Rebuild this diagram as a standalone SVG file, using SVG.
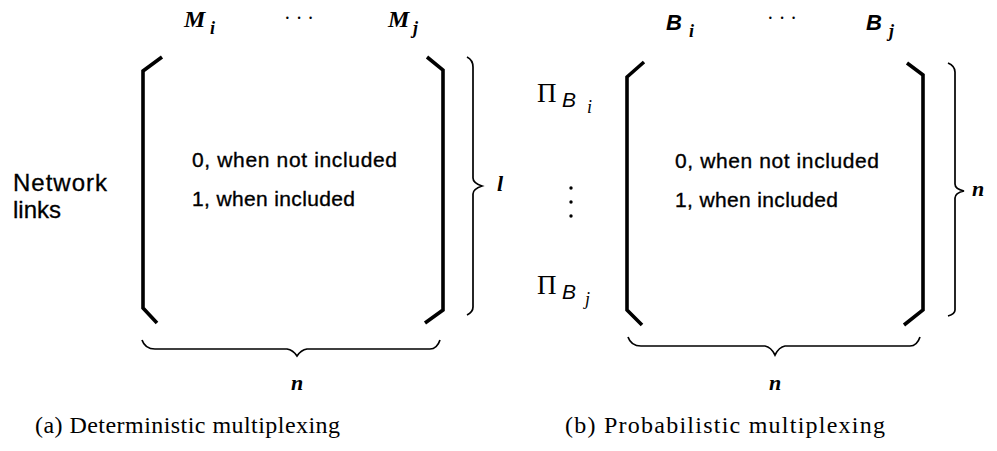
<svg xmlns="http://www.w3.org/2000/svg" width="997" height="451" viewBox="0 0 997 451">
<style>
.bk{fill:none;stroke:#000;stroke-width:3.6;stroke-linejoin:miter}
.br{fill:none;stroke:#000;stroke-width:1.7}
.sans{font-family:"Liberation Sans",Arial,sans-serif;fill:#000}
.serif{font-family:"Liberation Serif","Times New Roman",serif;fill:#000}
.it{font-style:italic}
.bi{font-style:italic;font-weight:bold}
.body{font-size:21px;stroke:#000;stroke-width:0.35}
.cap{font-size:24px}
</style>
<rect width="997" height="451" fill="#fff"/>
<g id="matrixA">
<path class="bk" d="M162,57 L143,71 L143,308 L157,323"/>
<path class="bk" d="M427,57 L443,70 L443,310 L425,323"/>
<text class="sans body" x="192" y="167" textLength="205">0, when not included</text>
<text class="sans body" x="192" y="206" textLength="163">1, when included</text>
</g>
<g id="colLabelsA">
<text class="serif bi" x="184" y="27" font-size="24">M</text>
<text class="serif bi" x="210" y="34" font-size="18">i</text>
<text class="serif" x="284" y="25" font-size="20">· · ·</text>
<text class="serif bi" x="388" y="27" font-size="24">M</text>
<text class="serif bi" x="413" y="34" font-size="18">j</text>
</g>
<g id="rowLabelA">
<text class="sans" x="13" y="191" font-size="24" textLength="94" stroke="#000" stroke-width="0.3">Network</text>
<text class="sans" x="13" y="218" font-size="24" stroke="#000" stroke-width="0.3">links</text>
</g>
<g id="matrixB">
<path class="bk" d="M644,62 L627,77 L627,310 L642,325"/>
<path class="bk" d="M907,63 L923,75 L923,310 L904,325"/>
<text class="sans body" x="675" y="168" textLength="204">0, when not included</text>
<text class="sans body" x="675" y="207" textLength="163">1, when included</text>
</g>
<g id="colLabelsB">
<text class="sans bi" x="666" y="30" font-size="22">B</text>
<text class="serif bi" x="689" y="37" font-size="18">i</text>
<text class="serif" x="767" y="25" font-size="20">· · ·</text>
<text class="sans bi" x="866" y="30" font-size="22">B</text>
<text class="serif bi" x="889" y="37" font-size="18">j</text>
</g>
<g id="rowLabelsB">
<text class="serif" x="537" y="102" font-size="27">Π</text>
<text class="sans it" x="562" y="107" font-size="21">B</text>
<text class="serif it" x="587" y="113" font-size="18">i</text>
<circle cx="571" cy="188" r="1.7"/>
<circle cx="571" cy="202" r="1.7"/>
<circle cx="571" cy="216" r="1.7"/>
<text class="serif" x="537" y="294" font-size="27">Π</text>
<text class="sans it" x="562" y="299" font-size="21">B</text>
<text class="serif it" x="585" y="305" font-size="18">j</text>
</g>
<g id="connectors">
<path class="br" d="M467,57 Q473,60 473,67 L473,178 Q473,183 482,186 Q473,189 473,194 L473,307 Q473,312 467,315"/>
<path class="br" d="M948,63 Q955,66 955,72 L955,184 Q955,189 964,191 Q955,193 955,198 L955,310 Q955,314 948,316"/>
<path class="br" d="M142,340 Q145,349 155,349 L287,349 Q293,350 297,356 Q301,350 307,349 L430,349 Q437,349 440,340"/>
<path class="br" d="M628,337 Q631,346 641,346 L765,346 Q771,347 775,355 Q779,347 785,346 L910,346 Q917,346 920,337"/>
</g>
<g id="dimLabels">
<text class="serif it" x="497" y="191" font-size="22" font-weight="bold">l</text>
<text class="serif it" x="972" y="196" font-size="22" font-weight="bold">n</text>
<text class="serif it" x="291" y="390" font-size="22" font-weight="bold">n</text>
<text class="serif it" x="769" y="390" font-size="22" font-weight="bold">n</text>
</g>
<g id="captions">
<text class="serif cap" x="35" y="433" textLength="305">(a) Deterministic multiplexing</text>
<text class="serif cap" x="565" y="433" textLength="320">(b) Probabilistic multiplexing</text>
</g>
</svg>
